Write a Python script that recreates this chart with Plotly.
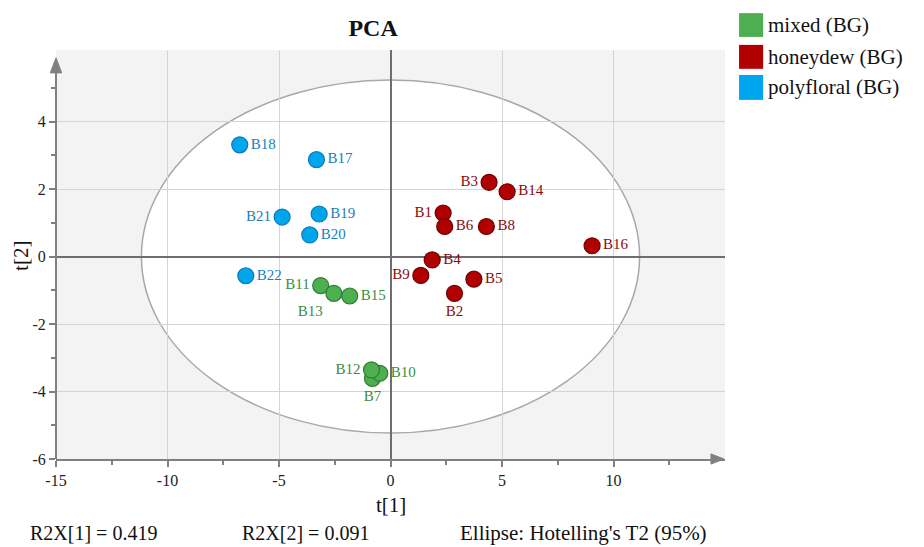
import plotly.graph_objects as go

# ---------------- data ----------------
mixed_names = ["B7", "B10", "B11", "B13", "B15", "B12"]
mixed_t1 = [-0.81, -0.48, -3.13, -2.54, -1.83, -0.85]
mixed_t2 = [-3.61, -3.46, -0.86, -1.09, -1.17, -3.36]
mixed_pos = ["bottom center", "middle right", "middle left", "bottom left", "middle right", "middle left"]

honey_names = ["B1", "B6", "B2", "B3", "B4", "B5", "B8", "B9", "B14", "B16"]
honey_t1 = [2.36, 2.43, 2.87, 4.42, 1.87, 3.74, 4.30, 1.36, 5.23, 9.04]
honey_t2 = [1.29, 0.89, -1.09, 2.20, -0.10, -0.67, 0.89, -0.56, 1.92, 0.32]
honey_pos = ["middle left", "middle right", "bottom center", "middle left", "middle right",
             "middle right", "middle right", "middle left", "middle right", "middle right"]

poly_names = ["B17", "B18", "B19", "B20", "B21", "B22"]
poly_t1 = [-3.32, -6.76, -3.20, -3.62, -4.86, -6.49]
poly_t2 = [2.87, 3.31, 1.26, 0.64, 1.17, -0.57]
poly_pos = ["middle right", "middle right", "middle right", "middle right", "middle left", "middle right"]

groups = ["mixed (BG)", "honeydew (BG)", "polyfloral (BG)"]
fill_colors = ["#4CAF50", "#B00000", "#00A6ED"]
edge_colors = ["#2E7D32", "#6E0000", "#0A78B8"]
label_colors = ["#3C8C3C", "#8B0A0A", "#1A7FB8"]

ellipse_a = 11.17   # Hotelling's T2 (95%) semi-axes
ellipse_b = 5.23

x_range = [-15, 15]
y_range = [-6, 6.12]
x_ticks = [-15, -10, -5, 0, 5, 10]
x_ticktext = ["-15", "-10", "-5", "0", "5", "10"]
x_minor = [-12.5, -7.5, -2.5, 2.5, 7.5, 12.5]
y_ticks = [-6, -4, -2, 0, 2, 4]
y_ticktext = ["-6", "-4", "-2", "0", "2", "4"]
y_minor = [-5, -3, -1, 1, 3, 5]
r2x = ["R2X[1] = 0.419", "R2X[2] = 0.091", "Ellipse: Hotelling's T2 (95%)"]

FONT = "Liberation Serif"
AXC = "#808080"

fig = go.Figure()

series = [
    (mixed_names, mixed_t1, mixed_t2, mixed_pos),
    (honey_names, honey_t1, honey_t2, honey_pos),
    (poly_names, poly_t1, poly_t2, poly_pos),
]
for i, (names, xs, ys, pos) in enumerate(series):
    fig.add_trace(go.Scatter(
        x=xs, y=ys, mode="markers+text", text=names, textposition=pos,
        name=groups[i], showlegend=False,
        marker=dict(size=16, color=fill_colors[i], line=dict(color=edge_colors[i], width=1.2)),
        textfont=dict(family=FONT, size=15, color=label_colors[i]),
        cliponaxis=False,
    ))

shapes = []
# ellipse
shapes.append(dict(type="circle", xref="x", yref="y",
                   x0=-ellipse_a, x1=ellipse_a, y0=-ellipse_b, y1=ellipse_b,
                   fillcolor="white", line=dict(color="#A8A8A8", width=1.5), layer="below"))
# y axis line (left) up to arrow base
shapes.append(dict(type="line", xref="paper", yref="paper", x0=0, x1=0, y0=0, y1=0.95,
                   line=dict(color=AXC, width=2)))
# y axis arrow head (top)
shapes.append(dict(type="path", xref="paper", yref="paper",
                   path="M -0.0085 0.944 L 0.0085 0.944 L 0 0.981 Z",
                   fillcolor=AXC, line=dict(color=AXC, width=1)))
# x axis arrow head (right)
shapes.append(dict(type="path", xref="paper", yref="paper",
                   path="M 0.979 0.0125 L 0.979 -0.0125 L 0.9985 0 Z",
                   fillcolor=AXC, line=dict(color=AXC, width=1)))

# manual legend
leg_y = [(1.090, 1.032), (1.0125, 0.954), (0.939, 0.878)]
annotations = []
for i, g in enumerate(groups):
    y0, y1 = leg_y[i]
    shapes.append(dict(type="rect", xref="paper", yref="paper", x0=1.021, x1=1.057, y0=y1, y1=y0,
                       fillcolor=fill_colors[i], line=dict(width=0)))
    annotations.append(dict(text=g, xref="paper", yref="paper", x=1.062, y=(y0 + y1) / 2,
                            xanchor="left", yanchor="middle", showarrow=False,
                            font=dict(family=FONT, size=21, color="#111")))

# axis titles
annotations.append(dict(text="t[1]", xref="paper", yref="paper", x=0.501, y=-0.112,
                        xanchor="center", yanchor="middle", showarrow=False,
                        font=dict(family=FONT, size=21, color="#111")))
annotations.append(dict(text="t[2]", xref="paper", yref="paper", x=-0.052, y=0.497,
                        xanchor="center", yanchor="middle", showarrow=False, textangle=-90,
                        font=dict(family=FONT, size=21, color="#111")))
# bottom stats
bx = [-0.042, 0.275, 0.601]
bsize = [20, 20, 21]
for i, t in enumerate(r2x):
    annotations.append(dict(text=t, xref="paper", yref="paper", x=bx[i], y=-0.18,
                            xanchor="left", yanchor="middle", showarrow=False,
                            font=dict(family=FONT, size=bsize[i], color="#111")))

fig.update_layout(
    width=924, height=547,
    margin=dict(l=56, r=199, t=50, b=88),
    paper_bgcolor="white", plot_bgcolor="#F3F3F3",
    title=dict(text="<b>PCA</b>", x=0.474, xref="paper", y=0.949, yref="container",
               xanchor="center", yanchor="middle",
               font=dict(family=FONT, size=24, color="#111")),
    shapes=shapes, annotations=annotations,
    showlegend=False,
    font=dict(family=FONT),
)
fig.update_xaxes(range=x_range, tickvals=x_ticks, ticktext=x_ticktext,
                 showgrid=True, gridcolor="#D4D4D4", gridwidth=1,
                 zeroline=True, zerolinecolor="#6E6E6E", zerolinewidth=1.5,
                 showline=True, linecolor=AXC, linewidth=2,
                 ticks="outside", ticklen=6, tickcolor=AXC, tickwidth=1.5,
                 minor=dict(tickvals=x_minor, ticks="outside", ticklen=4, tickcolor=AXC, showgrid=False),
                 tickfont=dict(family=FONT, size=16, color="#222"), fixedrange=True)
fig.update_yaxes(range=y_range, tickvals=y_ticks, ticktext=y_ticktext,
                 showgrid=True, gridcolor="#D4D4D4", gridwidth=1,
                 zeroline=True, zerolinecolor="#6E6E6E", zerolinewidth=1.5,
                 showline=False,
                 ticks="outside", ticklen=6, tickcolor=AXC, tickwidth=1.5,
                 minor=dict(tickvals=y_minor, ticks="outside", ticklen=4, tickcolor=AXC, showgrid=False),
                 tickfont=dict(family=FONT, size=16, color="#222"), fixedrange=True)

fig.write_html("out.html", config={"displayModeBar": False},
               post_script="document.body.style.margin='0';document.body.style.padding='0';")
